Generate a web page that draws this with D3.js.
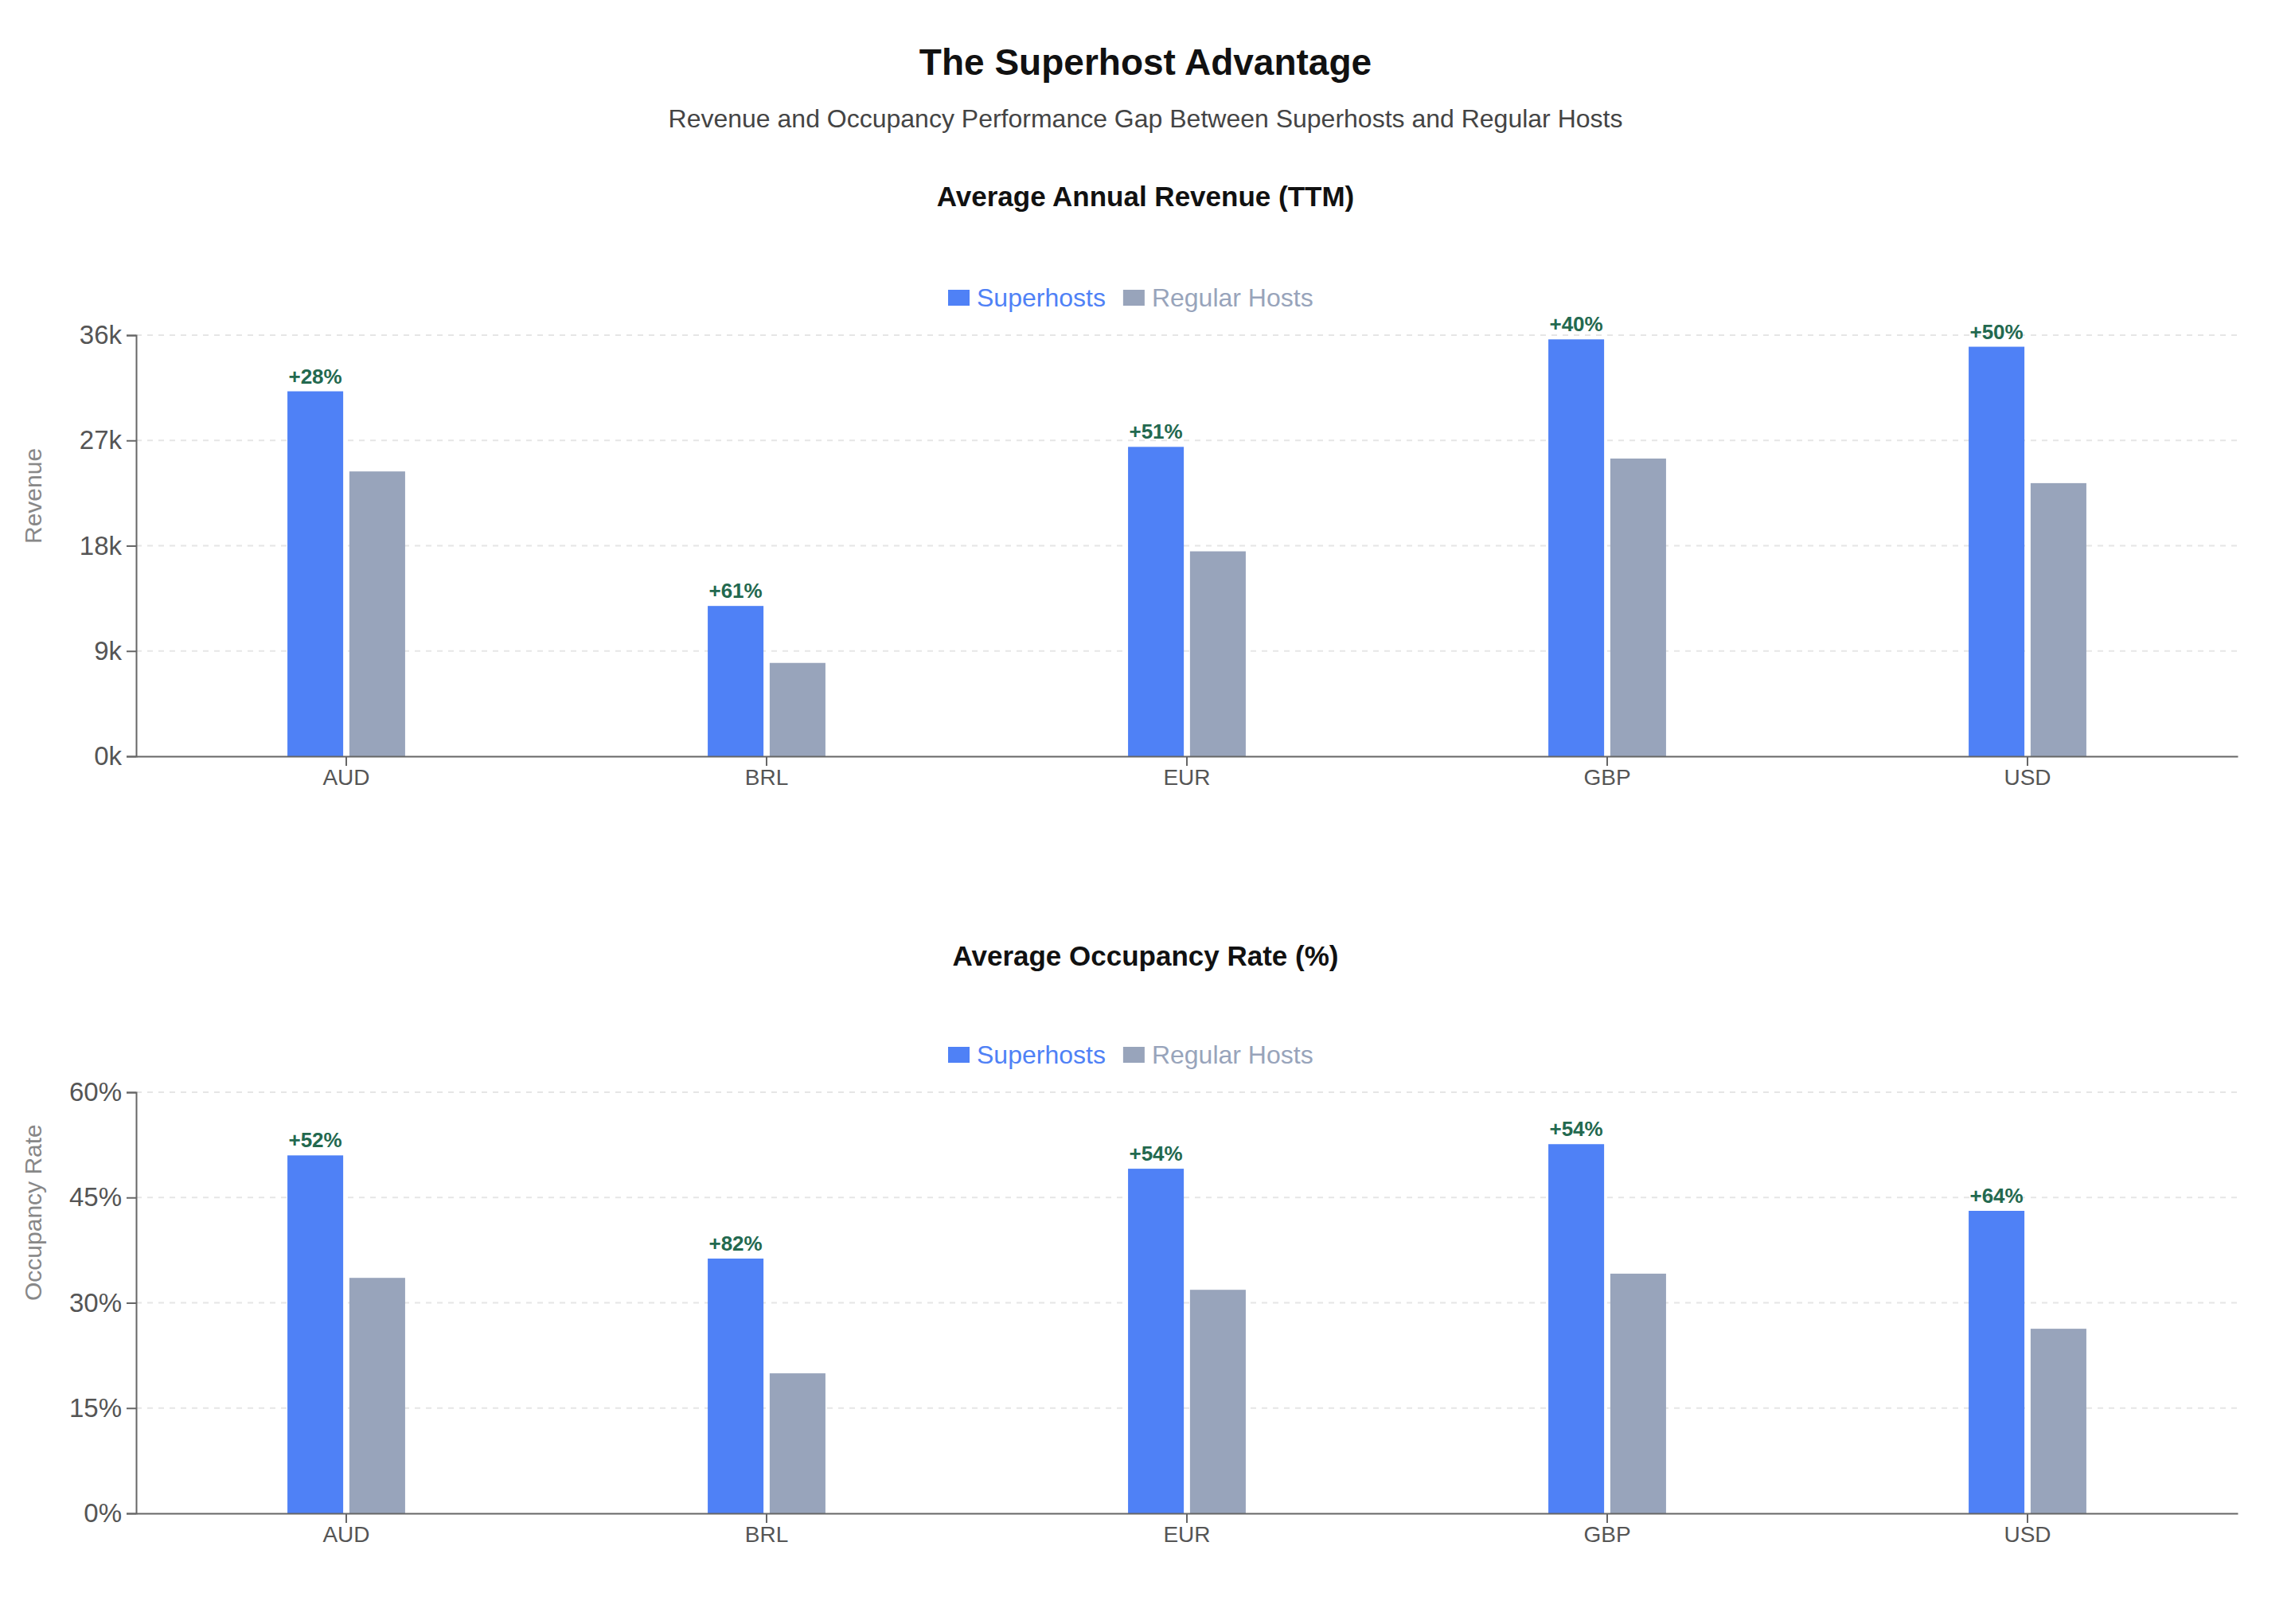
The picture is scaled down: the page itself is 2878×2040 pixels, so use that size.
<!DOCTYPE html>
<html>
<head>
<meta charset="utf-8">
<script src="https://cdn.jsdelivr.net/npm/d3@7"></script>
<style>
  body { margin: 0; background: #fff; }
  svg { font-family: "Liberation Sans", Arial, sans-serif; display: block; }
</style>
</head>
<body>
<svg id="chart" width="2878" height="2040"></svg>
<script>
// Data
var currencies = ['AUD', 'BRL', 'EUR', 'GBP', 'USD'];
var seriesNames = ['Superhosts', 'Regular Hosts'];
var revenueSuper = [31200, 12850, 26450, 35640, 35010];
var revenueRegular = [24350, 7980, 17520, 25450, 23350];
var occupancySuper = [51.0, 36.3, 49.1, 52.6, 43.1];
var occupancyRegular = [33.55, 19.95, 31.85, 34.15, 26.3];
var revenueTicks = [0, 9000, 18000, 27000, 36000];
var occupancyTicks = [0, 15, 30, 45, 60];

var colors = {super: '#4f81f6', regular: '#98a4bb'};

var svg = d3.select('#chart');
var W = +svg.attr('width');

svg.append('rect').attr('width', W).attr('height', 2040).attr('fill', '#fff');

// Page titles
svg.append('text')
    .attr('x', W / 2).attr('y', 78).attr('dy', '0.35em')
    .attr('text-anchor', 'middle')
    .attr('font-size', 46).attr('font-weight', 'bold').attr('fill', '#111')
    .text('The Superhost Advantage');

svg.append('text')
    .attr('x', W / 2).attr('y', 149).attr('dy', '0.35em')
    .attr('text-anchor', 'middle')
    .attr('font-size', 32).attr('fill', '#444')
    .text('Revenue and Occupancy Performance Gap Between Superhosts and Regular Hosts');

var plot = {l: 171, r: 2811, h: 529};

function drawPanel(top, titleShift, title, yLabel, superVals, regVals, ticks, maxVal, fmt) {
    var g = svg.append('g').attr('transform', 'translate(0,' + top + ')');

    // section title (top = centre of title line)
    g.append('text')
        .attr('x', W / 2).attr('y', titleShift).attr('dy', '0.35em')
        .attr('text-anchor', 'middle')
        .attr('font-size', 35).attr('font-weight', 'bold').attr('fill', '#111')
        .text(title);

    // legend
    var leg = g.append('g').attr('transform', 'translate(1191,127)');
    var lx = 0;
    seriesNames.forEach(function(name, i) {
        var c = i === 0 ? colors.super : colors.regular;
        leg.append('rect').attr('x', lx).attr('y', -10).attr('width', 27).attr('height', 20).attr('fill', c);
        var t = leg.append('text').attr('x', lx + 36).attr('y', 0).attr('dy', '0.35em')
            .attr('font-size', 32).attr('fill', c).text(name);
        lx += 36 + t.node().getComputedTextLength() + 22;
    });

    var plotTop = 174;
    var chartG = g.append('g').attr('transform', 'translate(0,' + plotTop + ')');

    var y = d3.scaleLinear().domain([0, maxVal]).range([plot.h, 0]);
    var x0 = d3.scaleBand().domain(currencies).range([plot.l, plot.r])
        .paddingInner(0.72).paddingOuter(0.36);
    var x1 = d3.scaleBand().domain(seriesNames).range([0, x0.bandwidth()])
        .paddingInner(0.1);

    // grid
    chartG.selectAll('.grid').data(ticks.slice(1)).enter()
        .append('line')
        .attr('x1', plot.l).attr('x2', plot.r)
        .attr('y1', function(d) { return y(d); })
        .attr('y2', function(d) { return y(d); })
        .attr('stroke', '#e6e6e6').attr('stroke-width', 2)
        .attr('stroke-dasharray', '7,7');

    var rows = currencies.map(function(c, i) {
        return {cur: c, vals: [superVals[i], regVals[i]]};
    });

    var grp = chartG.selectAll('.cur').data(rows).enter()
        .append('g').attr('class', 'cur')
        .attr('transform', function(d) { return 'translate(' + x0(d.cur) + ',0)'; });

    grp.selectAll('rect').data(function(d) {
        return d.vals.map(function(v, i) { return {s: seriesNames[i], v: v}; });
    }).enter().append('rect')
        .attr('x', function(d) { return x1(d.s); })
        .attr('width', x1.bandwidth())
        .attr('y', function(d) { return y(d.v); })
        .attr('height', function(d) { return plot.h - y(d.v); })
        .attr('fill', function(d, i) { return i === 0 ? colors.super : colors.regular; });

    grp.append('text')
        .attr('x', x1(seriesNames[0]) + x1.bandwidth() / 2)
        .attr('y', function(d) { return y(d.vals[0]) - 10; })
        .attr('text-anchor', 'middle')
        .attr('font-size', 26).attr('font-weight', 'bold').attr('fill', '#23694f')
        .text(function(d) { return '+' + Math.round((d.vals[0] / d.vals[1] - 1) * 100) + '%'; });

    // axes
    var yAxis = chartG.append('g').attr('transform', 'translate(' + plot.l + ',0)')
        .call(d3.axisLeft(y).tickValues(ticks).tickFormat(fmt).tickSize(12).tickPadding(6));
    var xAxis = chartG.append('g').attr('transform', 'translate(0,' + plot.h + ')')
        .call(d3.axisBottom(x0).tickSize(12).tickPadding(4).tickSizeOuter(0));

    [yAxis, xAxis].forEach(function(a) {
        a.select('.domain').attr('stroke', '#666').attr('stroke-width', 2);
        a.selectAll('.tick line').attr('stroke', '#666').attr('stroke-width', 2);
        a.selectAll('.tick text').attr('fill', '#555').attr('font-family', 'inherit');
    });
    yAxis.selectAll('.tick text').attr('font-size', 33);
    xAxis.selectAll('.tick text').attr('font-size', 28);

    // y label (anchored at start near plot middle)
    chartG.append('text')
        .attr('transform', 'translate(41,' + 262 + ') rotate(-90)')
        .attr('dy', '0.35em')
        .attr('font-size', 30).attr('fill', '#888')
        .text(yLabel);
}

drawPanel(247, 0, 'Average Annual Revenue (TTM)', 'Revenue',
    revenueSuper, revenueRegular, revenueTicks, 36000,
    function(d) { return (d / 1000) + 'k'; });

drawPanel(1198, 3, 'Average Occupancy Rate (%)', 'Occupancy Rate',
    occupancySuper, occupancyRegular, occupancyTicks, 60,
    function(d) { return d + '%'; });
</script>
</body>
</html>
